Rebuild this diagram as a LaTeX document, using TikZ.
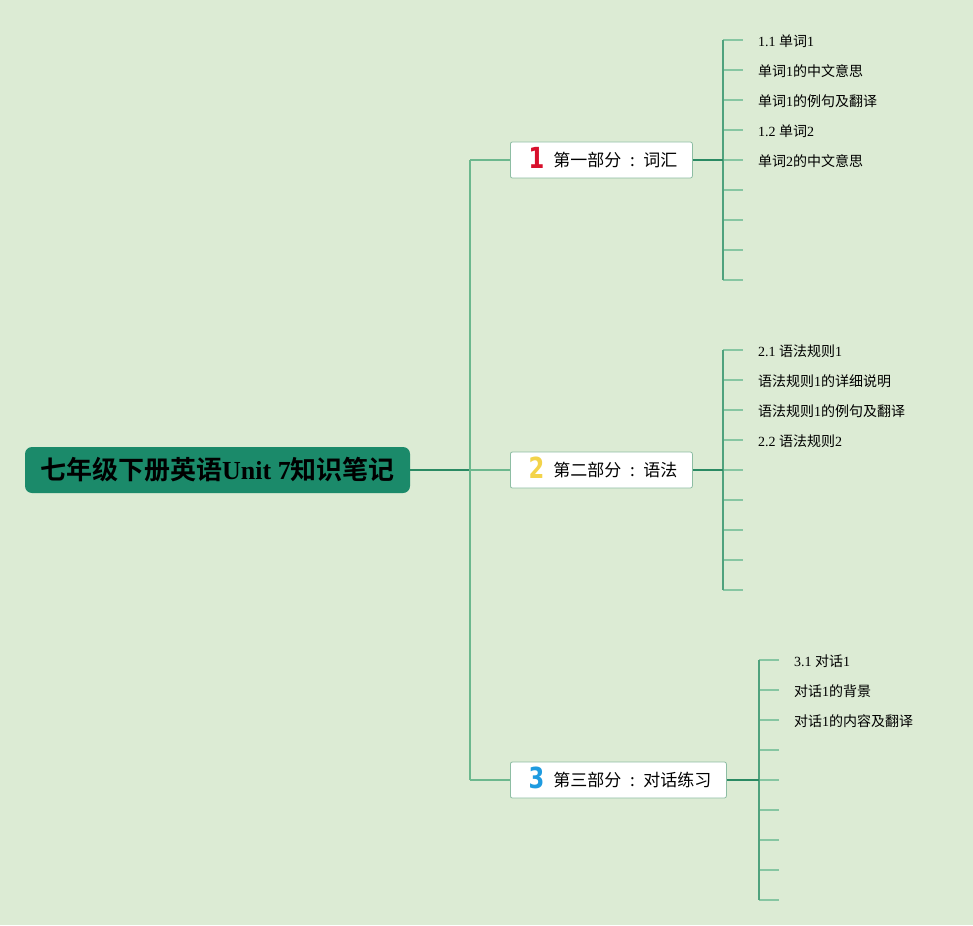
\documentclass[tikz,border=0pt]{standalone}
\usepackage{fontspec}
\usepackage{graphicx}
\setmainfont{Liberation Serif}
\newfontfamily\cjk{Noto Sans CJK SC}[BoldFont={Noto Sans CJK SC Bold}]
\newfontfamily\numfont{DejaVu Sans}[BoldFont={DejaVu Sans Bold}]
\newcommand{\zh}[1]{{\cjk #1}}
\newcommand{\zhcolon}{\makebox[22pt][c]{\cjk :}}
\newcommand{\partnum}[2]{\makebox[22pt][c]{\smash{\raisebox{-2pt}{\scalebox{0.78}[1]{\fontsize{29pt}{29pt}\selectfont\numfont\bfseries\color{#1}#2}}}}}

\definecolor{bg}{HTML}{DCEBD4}
\definecolor{rootgreen}{HTML}{1B8A6A}
\definecolor{boxline}{HTML}{8DBDA3}
\definecolor{trunkgreen}{HTML}{6CB88E}
\definecolor{stemgreen}{HTML}{2A8A63}
\definecolor{railgreen}{HTML}{4FA27D}
\definecolor{tickgreen}{HTML}{86C6A2}
\definecolor{numred}{HTML}{D8102C}
\definecolor{numyellow}{HTML}{F3D34A}
\definecolor{numblue}{HTML}{1E9BE0}

\begin{document}
\begin{tikzpicture}[x=1pt, y=-1pt,
    rootbox/.style={rounded corners=7pt, fill=rootgreen, minimum width=385pt, minimum height=46pt, inner sep=0pt},
    partbox/.style={draw=boxline, line width=0.8pt, fill=white, rounded corners=2pt, minimum height=36pt, inner xsep=15pt, inner ysep=0pt, anchor=west, font=\fontsize{17pt}{20pt}\selectfont},
    leaf/.style={anchor=west, inner sep=0pt, font=\fontsize{14pt}{16pt}\selectfont},
    trunk/.style={draw=trunkgreen, line width=1.2pt},
    stem/.style={draw=stemgreen, line width=1.4pt},
    rail/.style={draw=railgreen, line width=1.2pt},
    tick/.style={draw=tickgreen, line width=1.2pt}]
    \fill[bg] (0,0) rectangle (973,925);
    \useasboundingbox (0,0) rectangle (973,925);

    % centre topic
    \node (root) at (217.5,470) [rootbox] {\fontsize{26pt}{28pt}\selectfont\bfseries\zh{七年级下册英语}Unit 7\zh{知识笔记}};

    % the three parts
    \node (p1) at (510,160) [partbox] {\partnum{numred}{1}\hspace{6pt}\zh{第一部分}\zhcolon\zh{词汇}};
    \node (p2) at (510,470) [partbox] {\partnum{numyellow}{2}\hspace{6pt}\zh{第二部分}\zhcolon\zh{语法}};
    \node (p3) at (510,780) [partbox] {\partnum{numblue}{3}\hspace{6pt}\zh{第三部分}\zhcolon\zh{对话练习}};

    \coordinate (hub) at (470,470);
    \coordinate (j1) at (470,160);
    \coordinate (j3) at (470,780);
    \draw[stem] (root.east) -- (hub);
    \draw[trunk] (j1) -- (j3);
    \draw[trunk] (j1) -- (p1.west);
    \draw[trunk] (hub) -- (p2.west);
    \draw[trunk] (j3) -- (p3.west);

    % rails and ticks
    \foreach \i in {0,...,8} {
        \coordinate (s1\i) at (723,40+30*\i);
        \coordinate (t1\i) at (743,40+30*\i);
        \coordinate (s2\i) at (723,350+30*\i);
        \coordinate (t2\i) at (743,350+30*\i);
        \coordinate (s3\i) at (759,660+30*\i);
        \coordinate (t3\i) at (779,660+30*\i);
        \draw[tick] (s1\i) -- (t1\i);
        \draw[tick] (s2\i) -- (t2\i);
        \draw[tick] (s3\i) -- (t3\i);
    }
    \draw[rail] (s10) -- (s18);
    \draw[rail] (s20) -- (s28);
    \draw[rail] (s30) -- (s38);
    \draw[stem] (p1.east) -- (s14);
    \draw[stem] (p2.east) -- (s24);
    \draw[stem] (p3.east) -- (s34);

    % leaves
    \node (l11) at (758,41) [leaf] {1.1 \zh{单词}1};
    \node (l12) at (758,71) [leaf] {\zh{单词}1\zh{的中文意思}};
    \node (l13) at (758,101) [leaf] {\zh{单词}1\zh{的例句及翻译}};
    \node (l14) at (758,131) [leaf] {1.2 \zh{单词}2};
    \node (l15) at (758,161) [leaf] {\zh{单词}2\zh{的中文意思}};

    \node (l21) at (758,351) [leaf] {2.1 \zh{语法规则}1};
    \node (l22) at (758,381) [leaf] {\zh{语法规则}1\zh{的详细说明}};
    \node (l23) at (758,411) [leaf] {\zh{语法规则}1\zh{的例句及翻译}};
    \node (l24) at (758,441) [leaf] {2.2 \zh{语法规则}2};

    \node (l31) at (794,661) [leaf] {3.1 \zh{对话}1};
    \node (l32) at (794,691) [leaf] {\zh{对话}1\zh{的背景}};
    \node (l33) at (794,721) [leaf] {\zh{对话}1\zh{的内容及翻译}};
\end{tikzpicture}
\end{document}
